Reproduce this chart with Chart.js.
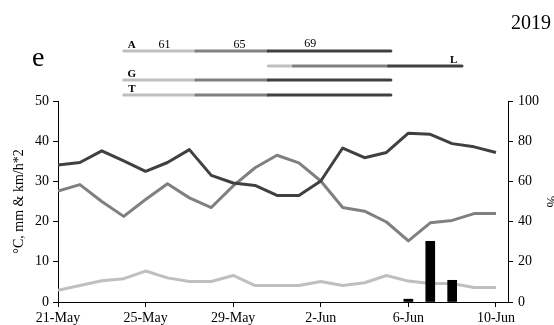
<!DOCTYPE html>
<html>
<head>
<meta charset="utf-8">
<script src="https://cdn.jsdelivr.net/npm/chart.js@4.4.1/dist/chart.umd.min.js"></script>
<style>
  html, body { margin: 0; padding: 0; background: #fff; }
  #wrap { width: 554px; height: 325px; }
</style>
</head>
<body>
<div id="wrap"><canvas id="myChart" width="554" height="325"></canvas></div>
<script>
// dates, one per day (x index 0..20)
const days = ['21-May', '22-May', '23-May', '24-May', '25-May', '26-May', '27-May', '28-May',
    '29-May', '30-May', '31-May', '1-Jun', '2-Jun', '3-Jun', '4-Jun', '5-Jun', '6-Jun',
    '7-Jun', '8-Jun', '9-Jun', '10-Jun'];
const tickDays = [0, 4, 8, 12, 16, 20];

// series (left axis: °C, mm & km/h*2 ; right axis: %)
const humidity = [68.2, 69.4, 75.2, 70.2, 65.0, 69.4, 75.8, 63.0, 59.2, 58.0, 53.0,
    53.0, 60.2, 76.6, 71.8, 74.4, 84.0, 83.4, 78.8, 77.2, 74.4];
const temperature = [27.6, 29.2, 25.0, 21.3, 25.5, 29.4, 25.9, 23.5, 28.9, 33.4, 36.5,
    34.6, 30.1, 23.5, 22.6, 19.9, 15.2, 19.7, 20.3, 22.0, 22.0];
const wind = [2.9, 4.1, 5.3, 5.8, 7.7, 6.0, 5.1, 5.1, 6.6, 4.1, 4.1,
    4.1, 5.1, 4.1, 4.8, 6.6, 5.2, 4.6, 4.6, 3.6, 3.6];
const rain = [null, null, null, null, null, null, null, null, null, null, null,
    null, null, null, null, null, 0.7, 15.1, 5.4, null, null];

// stage bars above the plot (in days): light -> medium -> dark
const stageRows = ['A', 'L', 'G', 'T'];
const stageBreaks = {
    A: [3.0, 6.3, 9.6, 15.2],
    L: [9.6, 10.75, 15.1, 18.45],
    G: [3.0, 6.3, 9.6, 15.2],
    T: [3.0, 6.3, 9.6, 15.2]
};
const stageNumbers = ['61', '65', '69'];
const stageNumberDays = [4.86, 8.29, 11.52];

const light = '#bfbfbf';
const mid = '#808080';
const dark = '#404040';

const toPoints = arr => arr.map((v, i) => ({x: i, y: v}));

// draws the growth-stage bars and the panel labels
const stagePlugin = {
    id: 'stages',
    afterDraw(chart) {
        const ctx = chart.ctx;
        const xs = chart.scales.x;
        const top = chart.chartArea.top;
        const rowY = {A: top - 50, L: top - 35, G: top - 21, T: top - 6};
        const labelDay = {A: 3.37, L: 18.07, G: 3.37, T: 3.37};
        const cols = [light, mid, dark];
        ctx.save();
        ctx.lineWidth = 3;
        ctx.lineCap = 'round';
        stageRows.forEach(r => {
            const b = stageBreaks[r];
            for (let k = 0; k < 3; k++) {
                ctx.strokeStyle = cols[k];
                ctx.beginPath();
                ctx.moveTo(xs.getPixelForValue(b[k]), rowY[r]);
                ctx.lineTo(xs.getPixelForValue(b[k + 1]), rowY[r]);
                ctx.stroke();
            }
            ctx.fillStyle = '#000';
            ctx.font = 'bold 11px "Liberation Serif"';
            ctx.textAlign = 'center';
            ctx.textBaseline = 'alphabetic';
            ctx.fillText(r, xs.getPixelForValue(labelDay[r]), rowY[r] - 3);
        });
        ctx.font = '12px "Liberation Serif"';
        stageNumbers.forEach((t, i) => {
            ctx.fillText(t, xs.getPixelForValue(stageNumberDays[i]), rowY.A - 3 - (i === 2 ? 1.5 : 0));
        });
        ctx.font = '28px "Liberation Serif"';
        ctx.textAlign = 'left';
        ctx.fillText('e', 32, 66);
        ctx.font = '20px "Liberation Serif"';
        ctx.textAlign = 'right';
        ctx.fillText('2019', 551, 29);
        ctx.restore();
    }
};

Chart.defaults.font.family = '"Liberation Serif", "Times New Roman", serif';
Chart.defaults.font.size = 14;
Chart.defaults.color = '#000';

const ctx = document.getElementById('myChart').getContext('2d');
new Chart(ctx, {
    type: 'line',
    data: {
        datasets: [
            {
                type: 'bar',
                label: 'Rain',
                data: toPoints(rain),
                backgroundColor: '#000',
                barThickness: 9,
                yAxisID: 'y'
            },
            {
                label: 'RH',
                data: toPoints(humidity),
                borderColor: dark,
                borderWidth: 3,
                pointRadius: 0,
                tension: 0,
                borderJoinStyle: 'round',
                yAxisID: 'y1'
            },
            {
                label: 'Temperature',
                data: toPoints(temperature),
                borderColor: mid,
                borderWidth: 3,
                pointRadius: 0,
                tension: 0,
                borderJoinStyle: 'round',
                yAxisID: 'y'
            },
            {
                label: 'Wind',
                data: toPoints(wind),
                borderColor: light,
                borderWidth: 3,
                pointRadius: 0,
                tension: 0,
                borderJoinStyle: 'round',
                yAxisID: 'y'
            }
        ]
    },
    options: {
        responsive: false,
        animation: false,
        layout: {padding: {top: 101, left: 0, right: 0, bottom: 0}},
        plugins: {legend: {display: false}, tooltip: {enabled: false}},
        scales: {
            x: {
                type: 'linear',
                min: 0,
                max: 20.55,
                offset: false,
                afterBuildTicks: s => { s.ticks = tickDays.map(v => ({value: v})); },
                afterFit: s => { s.height = 23; },
                ticks: {
                    padding: 2.5,
                    maxRotation: 0,
                    callback: v => days[v]
                },
                grid: {display: true, drawOnChartArea: false, tickLength: 5, color: '#000', offset: false},
                border: {display: true, color: '#000', width: 1}
            },
            y: {
                position: 'left',
                min: 0,
                max: 50,
                afterFit: s => { s.width = 58; },
                ticks: {stepSize: 10, padding: 4},
                grid: {display: true, drawOnChartArea: false, tickLength: 5, color: '#000'},
                border: {display: true, color: '#000', width: 1},
                title: {display: true, text: '°C, mm & km/h*2', font: {size: 14}, padding: {top: 11, bottom: 0}}
            },
            y1: {
                position: 'right',
                min: 0,
                max: 100,
                afterFit: s => { s.width = 46; },
                ticks: {stepSize: 20, padding: 5},
                grid: {display: true, drawOnChartArea: false, tickLength: 5, color: '#000'},
                border: {display: true, color: '#000', width: 1},
                title: {display: true, text: '%', font: {size: 14}, padding: {top: -5.5, bottom: 0}}
            }
        }
    },
    plugins: [stagePlugin]
});
</script>
</body>
</html>
